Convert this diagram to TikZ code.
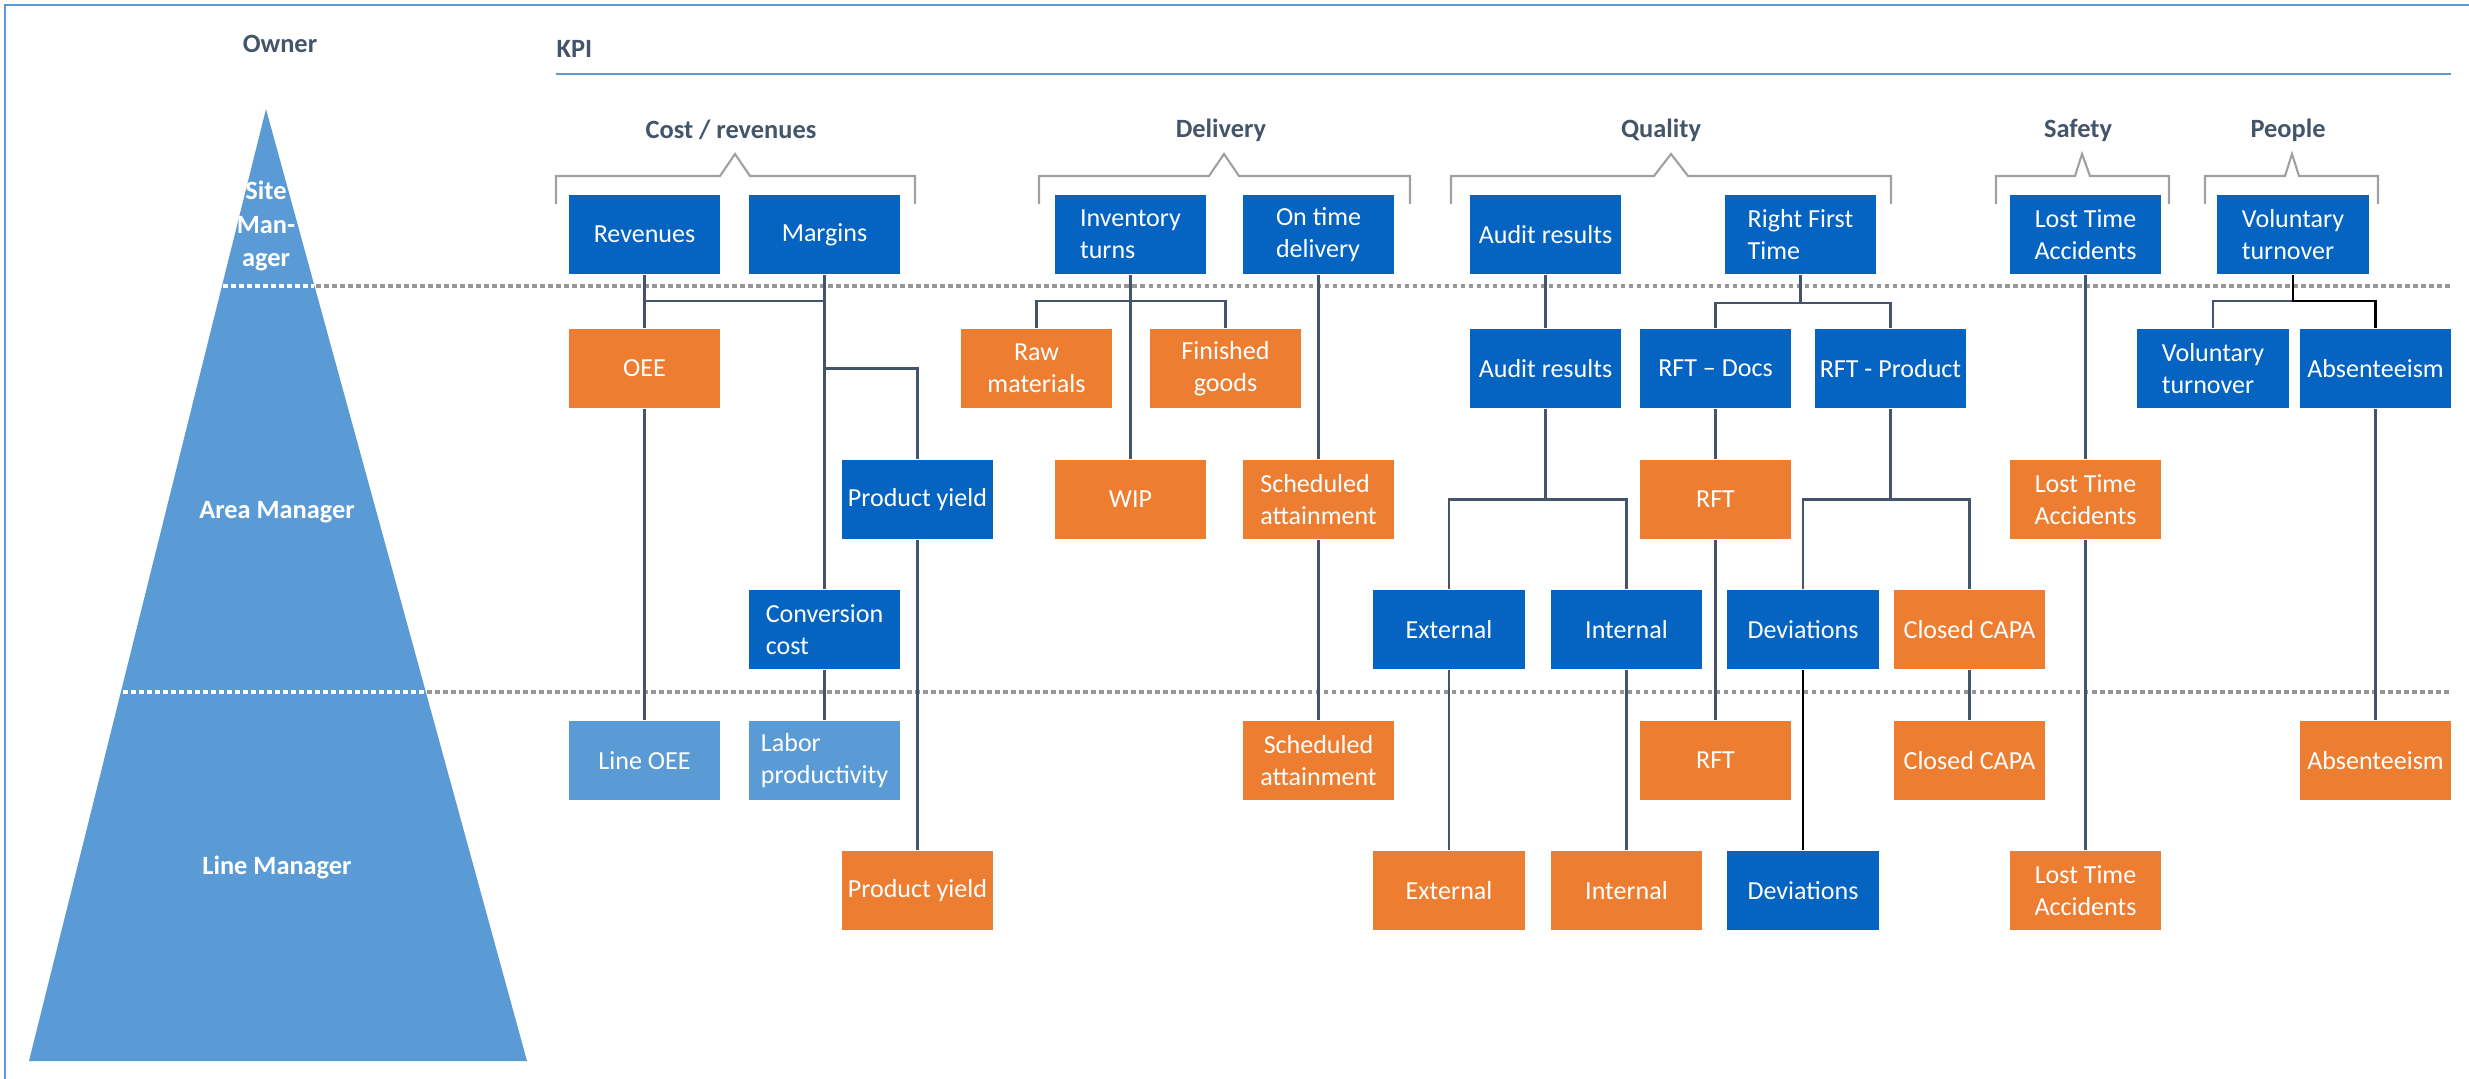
\documentclass[tikz,border=0pt]{standalone}
\usepackage{fontspec}
\setmainfont{Carlito}
\usepackage{tikz}
\definecolor{KBlue}{RGB}{5,99,193}
\definecolor{KOrange}{RGB}{237,125,49}
\definecolor{KLight}{RGB}{91,155,213}
\definecolor{KSlate}{RGB}{68,84,106}
\definecolor{KGray}{RGB}{160,160,160}
\definecolor{KDot}{RGB}{150,150,150}

\begin{document}
\begin{tikzpicture}[x=0.01cm, y=-0.01cm,
          kbx/.style={rectangle, minimum width=1.51cm, minimum height=0.79cm,
                      inner xsep=0.5pt, inner ysep=0pt, align=center,
                      text=white, font=\fontsize{7.4}{9}\selectfont},
          bbx/.style={kbx, fill=KBlue},
          obx/.style={kbx, fill=KOrange},
          lbx/.style={kbx, fill=KLight},
          hdr/.style={font=\fontsize{7.5}{9}\selectfont\bfseries, text=KSlate},
          own/.style={font=\fontsize{7.5}{9.4}\selectfont\bfseries, text=white,
                      align=center},
          lnk/.style={draw=KSlate, line width=0.6pt},
          blk/.style={draw=black, line width=0.8pt},
          brk/.style={draw=KGray, line width=0.6pt},
          sep/.style={line width=1pt, dash pattern=on 0.045cm off 0.035cm}
        ]
        \useasboundingbox (0,0) rectangle (2469,1079);

        % Frame and headings
        \draw[KLight, line width=0.85pt] (5,1079) -- (5,5) -- (2469,5);
        \node[hdr] (owner) at (280,44) {Owner};
        \node[hdr, anchor=west, inner sep=0pt] (kpi) at (556,49) {KPI};
        \draw[KLight, line width=0.6pt] (556,74) -- (2451,74);

        % Owner pyramid
        \fill[KLight] (266,109) -- (527,1061) -- (29,1061) -- cycle;
        \draw[sep, white] (223,286) -- (314,286);
        \draw[sep, KDot] (316,286) -- (2451,286);
        \draw[sep, white] (123,692) -- (425,692);
        \draw[sep, KDot] (427,692) -- (2451,692);
        \node[own] (site) at (266,226) {Site\\Man-\\ager};
        \node[own] (area) at (277,512) {Area Manager};
        \node[own] (line) at (277,867) {Line Manager};

        % KPI groups
        \node[hdr] (gcost) at (731,130) {Cost / revenues};
        \node[hdr] (gdel) at (1221,130) {Delivery};
        \node[hdr] (gqual) at (1661,130) {Quality};
        \node[hdr] (gsafe) at (2078,130) {Safety};
        \node[hdr] (gpeop) at (2288,130) {People};
        \draw[brk] (556,204) -- (556,176) -- (720,176) -- (735,154)
                   -- (750,176) -- (915,176) -- (915,204);
        \draw[brk] (1039,204) -- (1039,176) -- (1209,176) -- (1224,154)
                   -- (1239,176) -- (1410,176) -- (1410,204);
        \draw[brk] (1451,204) -- (1451,176) -- (1654,176) -- (1671,154)
                   -- (1688,176) -- (1891,176) -- (1891,204);
        \draw[brk] (1996,204) -- (1996,176) -- (2075,176) -- (2082,154)
                   -- (2090,176) -- (2169,176) -- (2169,204);
        \draw[brk] (2205,204) -- (2205,176) -- (2285,176) -- (2292,154)
                   -- (2299,176) -- (2378,176) -- (2378,204);
        \coordinate (bus) at (0,301);
        \coordinate (busq) at (0,303);

        % Cost / revenues
        \node[bbx] (rev) at (644.5,234.5) {Revenues};
        \node[bbx] (mar) at (824.5,234.5) {Margins};
        \node[obx] (oee) at (644.5,368.5) {OEE};
        \node[bbx] (pya) at (917.5,499.5) {Product yield};
        \node[bbx, align=left] (conv) at (824.5,629.5) {Conversion\\cost};
        \node[lbx] (loee) at (644.5,760.5) {Line OEE};
        \node[lbx, align=left] (lab) at (824.5,760.5) {Labor\\productivity};
        \node[obx] (pyl) at (917.5,890.5) {Product yield};

        % Delivery
        \node[bbx, align=left] (inv) at (1130.5,234.5) {Inventory\\turns};
        \node[bbx, align=left] (otd) at (1318.5,234.5) {On time\\delivery};
        \node[obx] (raw) at (1036.5,368.5) {Raw\\materials};
        \node[obx] (fin) at (1225.5,368.5) {Finished\\goods};
        \node[obx] (wip) at (1130.5,499.5) {WIP};
        \node[obx, align=left] (scha) at (1318.5,499.5) {Scheduled\\attainment};
        \node[obx] (schl) at (1318.5,760.5) {Scheduled\\attainment};

        % Quality
        \node[bbx] (auds) at (1545.5,234.5) {Audit results};
        \node[bbx, align=left] (rfts) at (1800.5,234.5) {Right First\\Time};
        \node[bbx] (auda) at (1545.5,368.5) {Audit results};
        \node[bbx] (rftd) at (1715.5,368.5) {RFT -- Docs};
        \node[bbx] (rftp) at (1890.5,368.5) {RFT - Product};
        \node[obx] (rfta) at (1715.5,499.5) {RFT};
        \node[bbx] (exta) at (1449,629.5) {External};
        \node[bbx] (inta) at (1626.5,629.5) {Internal};
        \node[bbx] (deva) at (1803,629.5) {Deviations};
        \node[obx] (capa) at (1969.5,629.5) {Closed CAPA};
        \node[obx] (rftl) at (1715.5,760.5) {RFT};
        \node[obx] (capl) at (1969.5,760.5) {Closed CAPA};
        \node[obx] (extl) at (1449,890.5) {External};
        \node[obx] (intl) at (1626.5,890.5) {Internal};
        \node[bbx] (devl) at (1803,890.5) {Deviations};

        % Safety
        \node[bbx] (ltas) at (2085.5,234.5) {Lost Time\\Accidents};
        \node[obx] (ltaa) at (2085.5,499.5) {Lost Time\\Accidents};
        \node[obx] (ltal) at (2085.5,890.5) {Lost Time\\Accidents};

        % People
        \node[bbx, align=left] (vols) at (2293,234.5) {Voluntary\\turnover};
        \node[bbx, align=left] (vola) at (2213,368.5) {Voluntary\\turnover};
        \node[bbx] (absa) at (2375.5,368.5) {Absenteeism};
        \node[obx] (absl) at (2375.5,760.5) {Absenteeism};

        % Cost links
        \draw[lnk] (rev) -- (oee);
        \draw[lnk] (rev |- bus) -- (mar |- bus);
        \draw[lnk] (mar) -- (conv);
        \draw[lnk] (mar |- oee) -| (pya);
        \draw[lnk] (oee) -- (loee);
        \draw[lnk] (conv) -- (lab);
        \draw[lnk] (pya) -- (pyl);

        % Delivery links
        \draw[lnk] (inv) -- (wip);
        \draw[lnk] (raw) |- (fin |- bus) -- (fin);
        \draw[lnk] (otd) -- (scha);
        \draw[lnk] (scha) -- (schl);

        % Quality links
        \draw[lnk] (auds) -- (auda);
        \draw[lnk] (auda) -- (auda |- rfta);
        \draw[lnk] (exta) |- (inta |- rfta) -- (inta);
        \draw[lnk] (rfts) -- (rfts |- busq);
        \draw[lnk] (rftd) |- (rftp |- busq) -- (rftp);
        \draw[lnk] (rftd) -- (rfta);
        \draw[lnk] (rfta) -- (rftl);
        \draw[lnk] (rftp) -- (rftp |- rfta);
        \draw[lnk] (deva) |- (capa |- rfta) -- (capa);
        \draw[lnk] (exta) -- (extl);
        \draw[lnk] (inta) -- (intl);
        \draw[blk] (deva) -- (devl);
        \draw[lnk] (capa) -- (capl);

        % Safety and people links
        \draw[lnk] (ltas) -- (ltaa);
        \draw[lnk] (ltaa) -- (ltal);
        \draw[lnk] (vola) |- (vols |- bus);
        \draw[blk] (vols) |- (absa |- bus) -- (absa);
        \draw[lnk] (absa) -- (absl);
      \end{tikzpicture}
\end{document}
